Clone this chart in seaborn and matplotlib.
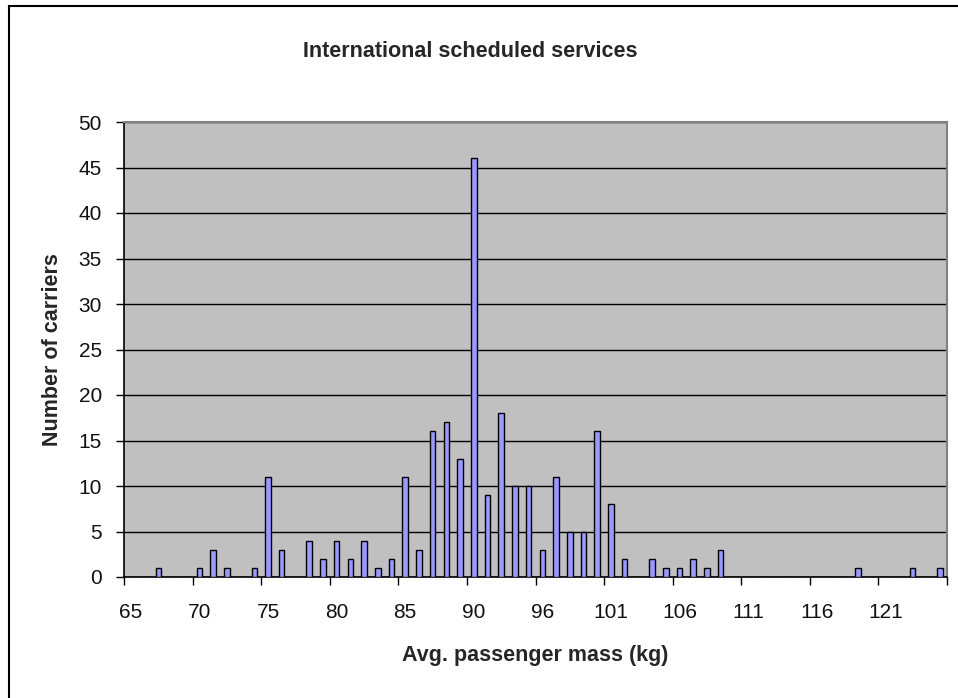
import numpy as np
import pandas as pd
import matplotlib
matplotlib.use("Agg")
import matplotlib.pyplot as plt
from matplotlib.patches import Rectangle
import seaborn as sns

# Average passenger mass categories (kg); 95 does not occur in the data
mass_kg = list(range(65, 95)) + list(range(96, 126))
carriers = [
    0, 0, 1, 0, 0, 1, 3, 1, 0, 1,      # 65-74
    11, 3, 0, 4, 2, 4, 2, 4, 1, 2,     # 75-84
    11, 3, 16, 17, 13, 46, 9, 18, 10, 10,  # 85-94
    3, 11, 5, 5, 16, 8, 2, 0, 2, 1,    # 96-105
    1, 2, 1, 3, 0, 0, 0, 0, 0, 0,      # 106-115
    0, 0, 0, 1, 0, 0, 0, 1, 0, 1,      # 116-125
]
title = "International scheduled services"
x_title = "Avg. passenger mass (kg)"
y_title = "Number of carriers"

sns.set_theme(style="white")
plt.rcParams["font.family"] = ["Liberation Sans", "DejaVu Sans"]

df = pd.DataFrame({"mass": [str(m) for m in mass_kg], "count": carriers})
order = [str(m) for m in mass_kg]

fig = plt.figure(figsize=(9.58, 6.98), dpi=100)
ax = fig.add_axes([124 / 958, 1 - 577 / 698, 823 / 958, 455 / 698])

sns.barplot(data=df, x="mass", y="count", order=order, color="#9999FF",
            saturation=1, edgecolor="black", linewidth=1.0, width=0.4, ax=ax,
            errorbar=None, zorder=3)

ax.set_facecolor("#C0C0C0")
ax.set_xlim(-0.5, len(order) - 0.5)
ax.set_ylim(0, 50)
ax.set_yticks(np.arange(0, 51, 5))
ax.yaxis.grid(True, color="black", linewidth=1.0)
ax.xaxis.grid(False)
ax.set_axisbelow(True)

# category labels every 5th category, tick marks between category groups
ax.set_xticks(range(0, len(order), 5))
ax.set_xticklabels(order[::5])
ax.set_xticks(np.arange(-0.5, len(order), 5), minor=True)
ax.tick_params(axis="x", which="major", length=0, pad=19, labelsize=15,
               labelcolor="#111111")
ax.tick_params(axis="x", which="minor", length=6, width=1, color="black",
               direction="out", bottom=True)
ax.tick_params(axis="y", length=6, width=1, color="black", direction="out",
               left=True, pad=10, labelsize=15, labelcolor="#111111")

for side in ("left", "bottom"):
    ax.spines[side].set_color("black")
    ax.spines[side].set_linewidth(1.2)
for side in ("top", "right"):
    ax.spines[side].set_color("#808080")
    ax.spines[side].set_linewidth(1.5)

ax.set_xlabel(x_title, fontsize=15.5, fontweight="bold", labelpad=16)
ax.set_ylabel(y_title, fontsize=15.5, fontweight="bold", labelpad=11)

fig.text(470 / 958, 1 - 57 / 698, title, ha="center", va="baseline",
         fontsize=15.5, fontweight="bold")

# chart area border
fig.patches.append(Rectangle((8.5 / 958, -0.2), 2, 1.2 - 5.5 / 698,
                             transform=fig.transFigure, fill=False,
                             edgecolor="black", linewidth=1.5))

fig.savefig("out.png", dpi=100, facecolor="white")
